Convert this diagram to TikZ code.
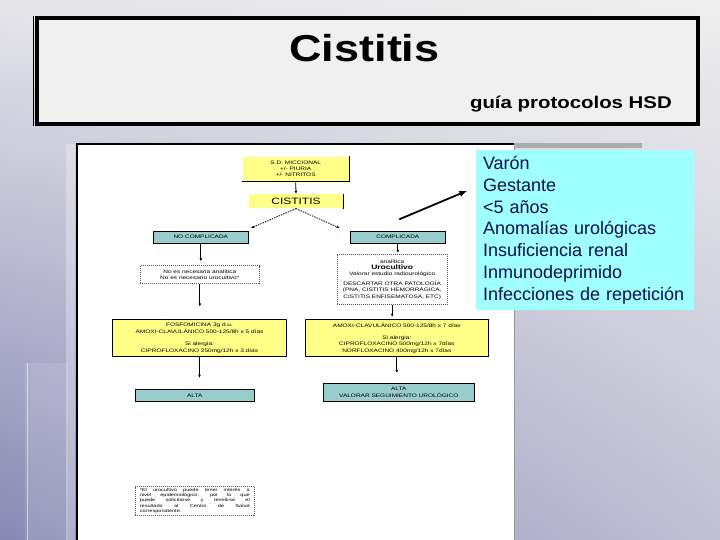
\documentclass[tikz,border=0pt]{standalone}
\usepackage{fontspec}
\setmainfont{Liberation Sans}
\newfontfamily\fcfont[FakeStretch=1.3]{Liberation Sans}
\newfontfamily\ttlfont[FakeStretch=1.2]{Liberation Sans}
\usetikzlibrary{arrows.meta,shadings}
\definecolor{pyellow}{HTML}{FFFF88}
\definecolor{pteal}{HTML}{99CCCC}
\definecolor{pcyan}{HTML}{A0FFFF}
\definecolor{navy}{HTML}{10104A}
\definecolor{bgtl}{HTML}{E6E6EA}
\definecolor{bgtr}{HTML}{EEEEEE}
\definecolor{bgbl}{HTML}{8888B4}
\definecolor{bgbr}{HTML}{C0C0D4}
\begin{document}
\begin{tikzpicture}[x=1pt,y=-1pt,
  box/.style={draw=black, line width=0.6pt, inner sep=0pt, align=center,
    font=\fcfont\fontsize{5}{7}\selectfont},
  ybox/.style={box, fill=pyellow},
  nbox/.style={box, draw=none, fill=pyellow},
  tbox/.style={box, fill=pteal},
  dbox/.style={box, draw=gray!70!black, dash pattern=on 1pt off 1pt, fill=white},
  arr/.style={-{Latex[length=3.2pt,width=2.8pt]}, line width=0.8pt},
  darr/.style={arr, dash pattern=on 1.5pt off 1pt},
]
\useasboundingbox (0,0) rectangle (720,540);
% background
\shade[upper left=bgtl, upper right=bgtr, lower left=bgbl, lower right=bgbr] (0,0) rectangle (720,540);
\fill[white, opacity=0.12] (25,363) rectangle (68,540);
\draw[white, opacity=0.5, line width=1pt] (27,363) -- (27,540);
\fill[white, opacity=0.30] (66,144) rectangle (75,540);
% title frame
\node[draw=black, line width=3.5pt, fill=gray!12, minimum width=661pt, minimum height=106pt, inner sep=0pt] (titlebox) at (367.5,70.8) {};
\draw[line width=0.8pt] (33.6,16) -- (33.6,126);
\node[anchor=base, inner sep=0pt, font=\ttlfont\bfseries\fontsize{37.5}{40}\selectfont] (ttl) at (364.5,62) {Cistitis};
\node[anchor=base east, inner sep=0pt, font=\ttlfont\bfseries\fontsize{17}{20}\selectfont] (sub) at (672,109) {guía protocolos HSD};
% page
\fill[white] (77,144) rectangle (514,540);
\draw[gray!80, line width=1pt] (514,144) -- (514,540);
\draw[line width=1.6pt] (77,540) -- (77,144) -- (514,144);
\fill[gray!65] (514,143.5) rectangle (642,148);
% flowchart
\node[nbox, minimum width=106pt, minimum height=24.6pt] (top) at (295.7,169)
  {S.D. MICCIONAL\\[-0.8pt]+/- PIURIA\\[-0.8pt]+/- NITRITOS};
\draw[line width=0.6pt] (top.north east) -- (top.south east) -- (top.south west);
\node[nbox, minimum width=94pt, minimum height=14pt, font=\fcfont\fontsize{9.2}{10}\selectfont] (cist) at (296,201.3) {CISTITIS};
\draw[line width=0.6pt] (cist.north east) -- (cist.south east);
\node[tbox, minimum width=95pt, minimum height=12.3pt] (nocomp) at (200.8,237.2) {NO COMPLICADA};
\node[tbox, minimum width=95pt, minimum height=12.3pt] (comp) at (397.8,237.2) {COMPLICADA};
\node[dbox, minimum width=119pt, minimum height=17.6pt] (nodash) at (199.8,274.5)
  {No es necesaria analítica\\[-0.6pt]No es necesario urocultivo*};
\node[dbox, minimum width=110.3pt, minimum height=50.4pt] (cdash) at (392.2,279.5)
  {analítica\\[-1pt]{\fontsize{6.5}{7}\selectfont\bfseries Urocultivo}\\[-1pt]Valorar estudio radiourológico\\[3pt]
   DESCARTAR OTRA PATOLOGÍA\\[-0.8pt](PNA, CISTITIS HEMORRÁGICA,\\[-0.8pt]CISTITIS ENFISEMATOSA, ETC)};
\node[ybox, minimum width=174.4pt, minimum height=37.7pt] (fosfo) at (199.5,337.8)
  {FOSFOMICINA 3g d.u.\\AMOXI-CLAVULÁNICO 500-125/8h x 5 días\\[5pt]Si alergia:\\CIPROFLOXACINO 250mg/12h x 3 días};
\node[ybox, minimum width=183pt, minimum height=37.4pt] (amoxi) at (396.8,338)
  {AMOXI-CLAVULÁNICO 500-125/8h x 7 días\\[5pt]Si alergia:\\[-0.6pt]CIPROFLOXACINO 500mg/12h x 7días\\[-0.6pt]NORFLOXACINO 400mg/12h x 7días};
\node[tbox, minimum width=119pt, minimum height=12pt] (alta1) at (194.8,395.3) {ALTA};
\node[tbox, minimum width=151pt, minimum height=18pt] (alta2) at (398.8,392.3)
  {ALTA\\[-0.8pt]VALORAR SEGUIMIENTO UROLÓGICO};
\node[dbox, minimum width=119pt, minimum height=28.3pt] (foot) at (194.8,500.8)
  {\parbox{110pt}{\fcfont\fontsize{4.3}{5.3}\selectfont *El urocultivo puede tener interés a\linebreak
   nivel epidemiológico, por lo que\linebreak puede solicitarse y remitirse el\linebreak
   resultado al Centro de Salud\linebreak correspondiente.}};
% connectors
\draw[arr] (top.south) -- (cist.north);
\draw[darr] (cist.south) -- ([shift={(2.4pt,2.7pt)}]nocomp.north east);
\draw[darr] (cist.south) -- ([shift={(-10.3pt,2.7pt)}]comp.north west);
\draw[arr, shorten >=4pt] (nocomp.south) -- (nocomp.south |- nodash.north);
\draw[arr, shorten >=12pt] (nodash.south) -- (nodash.south |- fosfo.north);
\draw[arr, shorten >=11pt] (fosfo.south) -- (fosfo.south |- alta1.north);
\draw[arr, shorten >=1pt] (comp.south) -- (comp.south |- cdash.north);
\draw[arr, shorten >=2pt] (cdash.south) -- (cdash.south |- amoxi.north);
\draw[arr, shorten >=10pt] (amoxi.south) -- (amoxi.south |- alta2.north);
% criteria box
\node[fill=pcyan, minimum width=218pt, minimum height=160pt, text width=204pt, inner xsep=7pt, inner ysep=0pt,
  align=left, text=navy, font=\fontsize{18}{21.75}\selectfont] (cyan) at (585,230)
  {Varón\\Gestante\\<5 años\\Anomalías urológicas\\Insuficiencia renal\\Inmunodeprimido\\Infecciones de repetición};
\coordinate (as) at (399.3,219.3);
\coordinate (ae) at (467.3,190.7);
\draw[line width=1.8pt, -{Latex[length=8pt,width=6.5pt]}] (as) -- (ae);
\end{tikzpicture}
\end{document}
